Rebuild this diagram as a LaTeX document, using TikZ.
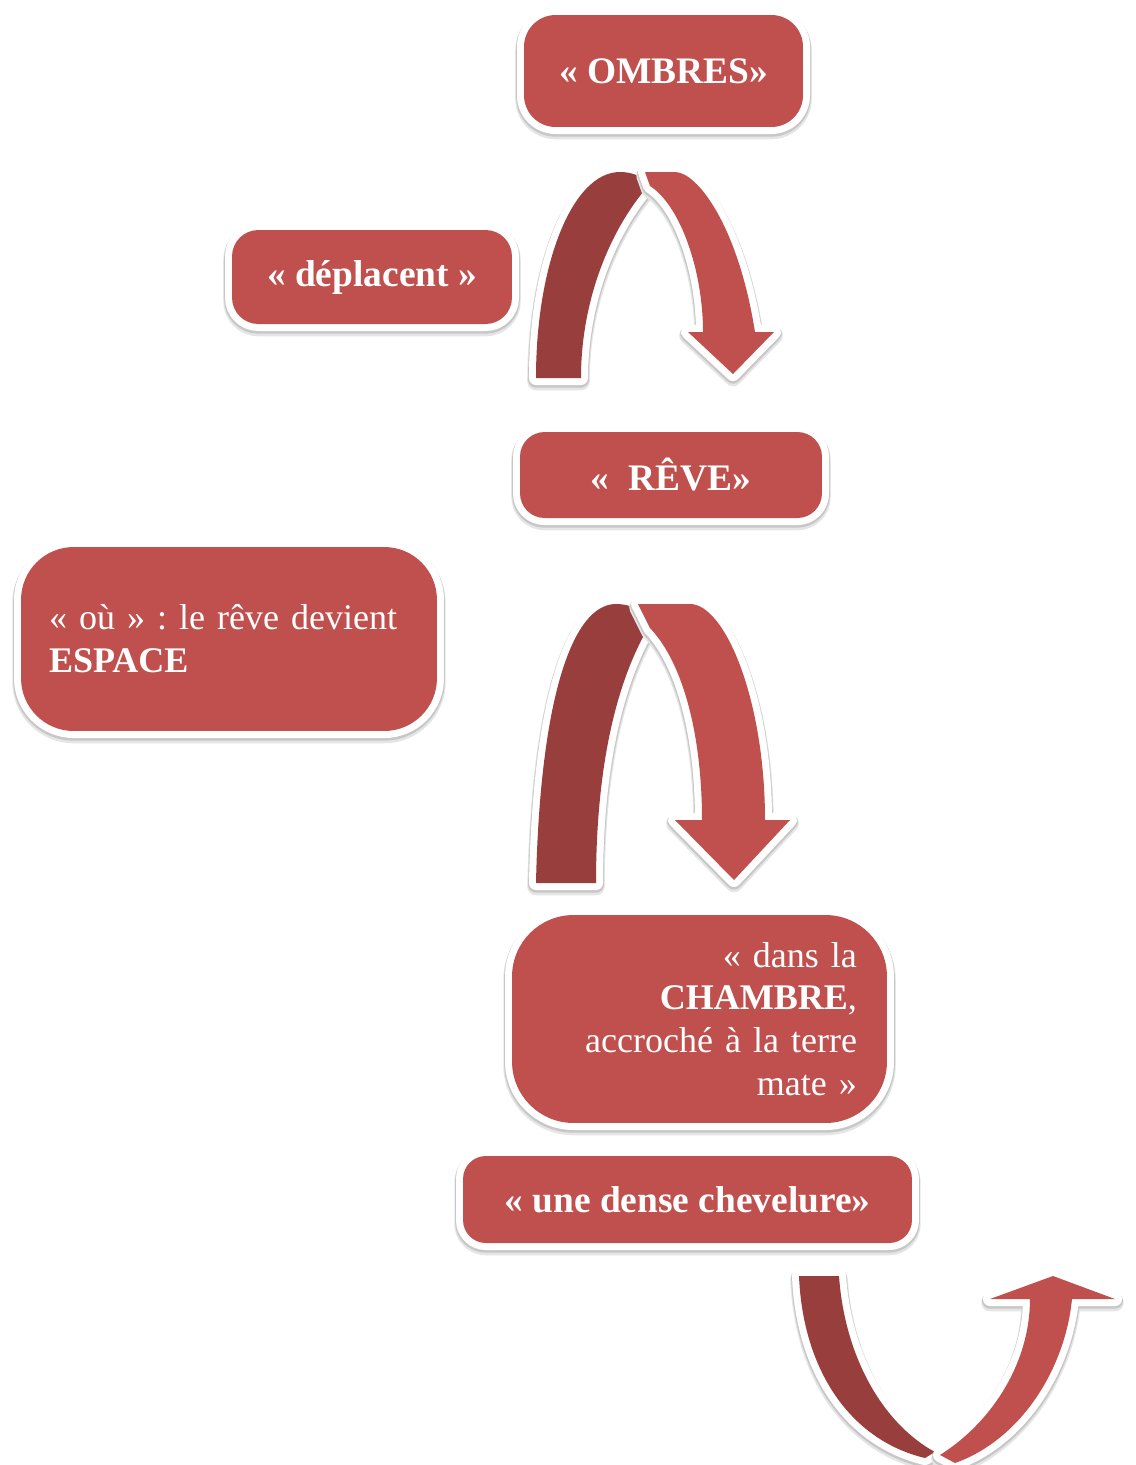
\documentclass[tikz,border=0pt]{standalone}
\usepackage{fontspec}
\setmainfont{Liberation Serif}
\definecolor{boxred}{HTML}{C0504D}
\definecolor{darkred}{HTML}{983E3D}
\tikzset{
  halo/.style={
    preaction={draw=black!10, line width=10pt, line join=round, transform canvas={yshift=-2pt}},
    preaction={draw=black!22, line width=9pt, line join=round, transform canvas={yshift=-1pt}},
    preaction={draw=white, line width=8pt, line join=round}},
  redbox/.style={halo, fill=boxred, text=white, inner sep=0pt},
  boldtext/.style={font=\fontsize{21.3}{24}\selectfont\bfseries},
  plaintext/.style={font=\fontsize{20.5}{24.4}\selectfont\frenchspacing}
}
\begin{document}
\begin{tikzpicture}[x=0.02cm, y=-0.02cm]
    \useasboundingbox (0, 0) rectangle (1136, 1465);

    \node[redbox, boldtext, rounded corners=18, minimum width=5.58cm, minimum height=2.24cm] (ombres) at (663.5, 71) {« OMBRES»};
    \node[redbox, boldtext, rounded corners=15, minimum width=5.6cm, minimum height=1.88cm] (deplacent) at (372, 277) {« déplacent »};
    \node[redbox, boldtext, rounded corners=14, minimum width=6.04cm, minimum height=1.72cm] (reve) at (671, 475) {«~ RÊVE»};
    \node[redbox, plaintext, rounded corners=30, minimum width=8.32cm, minimum height=3.68cm,
          text width=7.2cm, align=left] (espace) at (229, 639) {\mbox{« où » : le rêve devient}\\\textbf{ESPACE}};
    \node[redbox, plaintext, rounded corners=35, minimum width=7.5cm, minimum height=4.16cm,
          text width=6.3cm, align=right] (chambre) at (699.5, 1019) {« dans la\\\textbf{CHAMBRE},\\accroché à la terre\\mate »};
    \node[redbox, boldtext, rounded corners=13, minimum width=8.98cm, minimum height=1.74cm] (chevelure) at (687.5, 1199.5) {« une dense chevelure»};

    % first arrow
    \fill[halo, darkred] (536, 378) .. controls (536, 265) and (572, 172) .. (620, 172) .. controls (628, 172) and (636, 174) .. (642, 178)
        -- (648, 186) .. controls (610, 230) and (581, 300) .. (581, 378) -- cycle;
    \fill[halo, boxred] (645, 172) -- (675, 172) .. controls (697, 172) and (738, 225) .. (755, 332) -- (774, 332) -- (733, 374)
        -- (688, 332) -- (703, 332) .. controls (703, 270) and (680, 205) .. (650, 186) -- cycle;

    % second arrow
    \fill[halo, darkred] (536, 883) .. controls (540, 700) and (572, 604) .. (616, 604) .. controls (624, 604) and (632, 606) .. (638, 610)
        -- (648, 628) .. controls (612, 690) and (596, 780) .. (596, 883) -- cycle;
    \fill[halo, boxred] (638, 604) -- (690, 604) .. controls (725, 604) and (765, 700) .. (765, 820) -- (790, 820) -- (734, 880)
        -- (675, 820) -- (702, 820) .. controls (702, 740) and (685, 665) .. (650, 628) -- cycle;

    % third arrow
    \fill[halo, darkred] (799, 1276) -- (839, 1276) .. controls (845, 1360) and (885, 1425) .. (935, 1452) -- (925, 1458)
        .. controls (850, 1440) and (803, 1370) .. (799, 1276) -- cycle;
    \fill[halo, boxred] (940, 1455) .. controls (995, 1420) and (1030, 1360) .. (1030, 1299) -- (990, 1299) -- (1053, 1276)
        -- (1115, 1299) -- (1072, 1299) .. controls (1065, 1370) and (1020, 1440) .. (955, 1463) -- cycle;
\end{tikzpicture}
\end{document}
